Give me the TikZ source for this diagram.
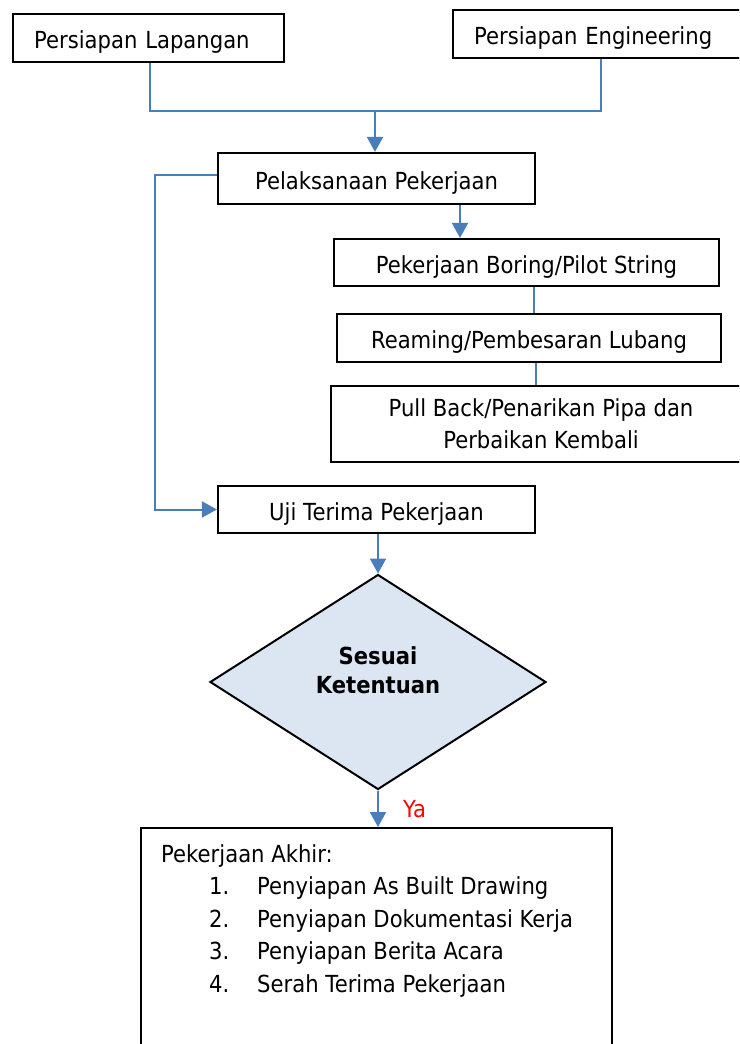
\documentclass[tikz,border=0pt]{standalone}
\usepackage{fontspec}
\setmainfont{DejaVu Sans}[FakeStretch=0.9]
\usetikzlibrary{arrows.meta,shapes.geometric}
\definecolor{lineblue}{HTML}{4A7EBB}
\definecolor{diafill}{HTML}{DCE6F2}
\newcommand\fsz{\fontsize{23.5}{32}\selectfont}
\begin{document}
\begin{tikzpicture}[x=1pt,y=-1pt,
 box/.style={draw=black, line width=2.2pt, inner sep=0pt, font=\fsz, align=center},
 oneline/.style={text height=21.5pt, text depth=0pt},
 leftbox/.style={box, oneline, anchor=west, inner xsep=21pt, align=left},
 conn/.style={draw=lineblue, line width=2pt},
 arr/.style={conn, -{Triangle[length=15pt,width=16pt]}},
 dia/.style={diamond, draw=black, line width=2pt, fill=diafill, inner sep=0pt,
   minimum width=336pt, minimum height=215pt}
]
\useasboundingbox (0,0) rectangle (739,1044);
\clip (0,0) rectangle (739,1044);
\fill[white] (0,0) rectangle (739,1044);

\node[leftbox, minimum height=48pt, text width=229pt] (b1) at (12,38) {Persiapan Lapangan};
\node[leftbox, minimum height=48pt, text width=272pt] (b2) at (452,34) {Persiapan Engineering};
\node[box, oneline, minimum width=317pt, minimum height=51pt] (b3) at (376.5,178.5) {Pelaksanaan Pekerjaan};
\node[box, oneline, minimum width=385pt, minimum height=47pt] (b4) at (526.5,262.5) {Pekerjaan Boring/Pilot String};
\node[box, oneline, minimum width=384pt, minimum height=48pt] (b5) at (529,338) {Reaming/Pembesaran Lubang};
\node[box, minimum width=420pt, minimum height=76pt] (b6) at (541,424) {Pull Back/Penarikan Pipa dan\\Perbaikan Kembali};
\node[box, oneline, minimum width=317pt, minimum height=47pt] (b7) at (376.5,509.5) {Uji Terima Pekerjaan};
\node[dia] (d) at (378,682) {};
\node[font=\fontsize{23.5}{29}\selectfont\bfseries, align=center, inner sep=0pt] (dt) at (378,670) {Sesuai\\Ketentuan};
\node[box, anchor=north west, minimum width=471pt, minimum height=260pt] (b8) at (140,827) {};
\node[anchor=north west, inner sep=0pt, align=left, font=\fontsize{23.5}{32.5}\selectfont] (b8t) at (161,844)
 {Pekerjaan Akhir:\\
  \hspace*{48pt}\makebox[48pt][l]{1.}Penyiapan As Built Drawing\\
  \hspace*{48pt}\makebox[48pt][l]{2.}Penyiapan Dokumentasi Kerja\\
  \hspace*{48pt}\makebox[48pt][l]{3.}Penyiapan Berita Acara\\
  \hspace*{48pt}\makebox[48pt][l]{4.}Serah Terima Pekerjaan};
\node[anchor=base west, inner sep=0pt, text=red, font=\fsz] (ya) at (403,817) {Ya};

\coordinate (j1) at (150,111);
\coordinate (j2) at (601,111);
\coordinate (j3) at (375,111);
\coordinate (l1) at (155,175);
\coordinate (c4) at (460,0);
\coordinate (c5) at (534,0);
\coordinate (c6) at (536,0);

\draw[conn] (b1.south -| j1) -- (j1) -- (j2) -- (b2.south -| j2);
\draw[arr] (j3) -- (b3.north -| j3);
\draw[arr] (b3.west |- l1) -- (l1) |- (b7.west);
\draw[arr] (b3.south -| c4) -- (b4.north -| c4);
\draw[conn] (b4.south -| c5) -- (b5.north -| c5);
\draw[conn] (b5.south -| c6) -- (b6.north -| c6);
\draw[arr] (b7.south -| d.north) -- (d.north);
\draw[arr] (d.south) -- (b8.north -| d.south);
\end{tikzpicture}
\end{document}
